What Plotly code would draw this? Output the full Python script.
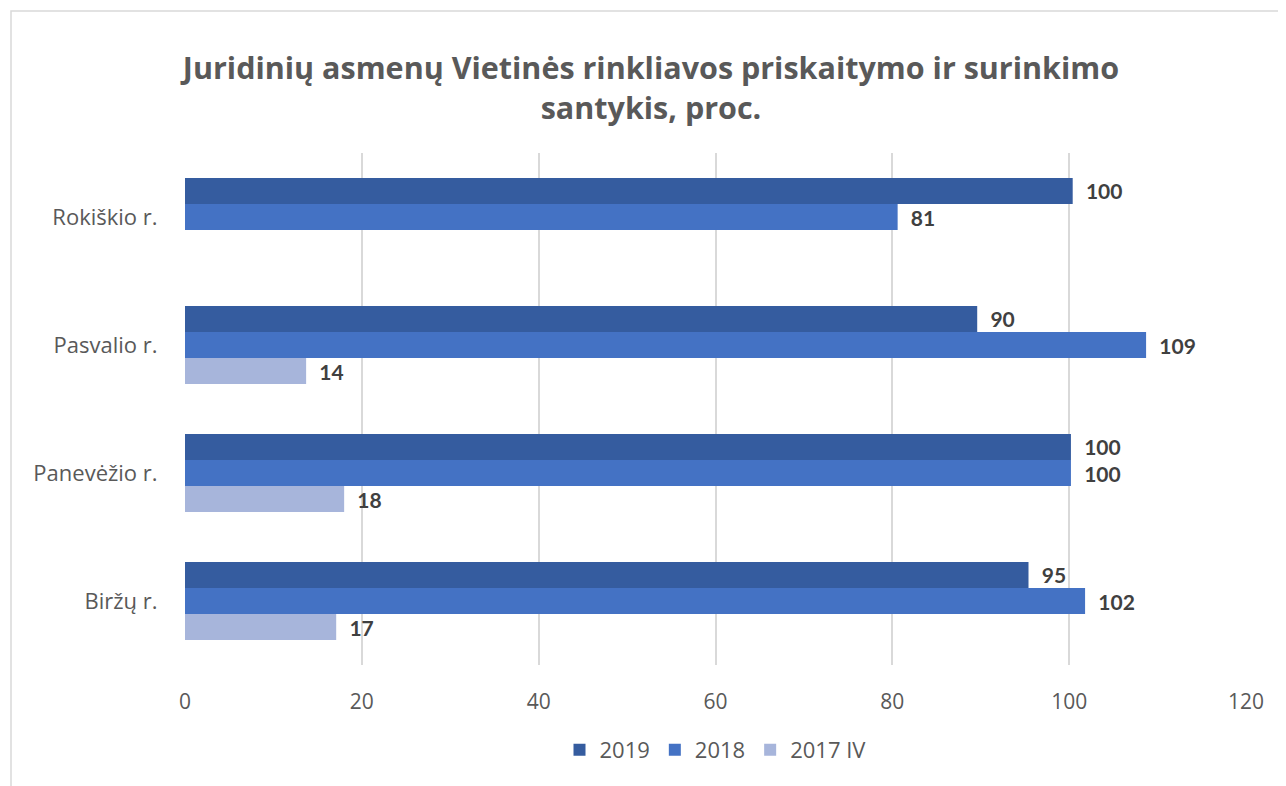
import plotly.graph_objects as go

categories = ["Biržų r.", "Panevėžio r.", "Pasvalio r.", "Rokiškio r."]
series_names = ["2019", "2018", "2017 IV"]
values_2019 = [95.4, 100.2, 89.6, 100.4]
values_2018 = [101.8, 100.2, 108.7, 80.6]
values_2017 = [17.1, 18.0, 13.7, None]
x_ticks = [0, 20, 40, 60, 80, 100, 120]

colors = {"2019": "#355C9F", "2018": "#4472C4", "2017 IV": "#A7B5DB"}
series = {"2019": values_2019, "2018": values_2018, "2017 IV": values_2017}

W, H = 1278, 778  # page body has an 8px margin
L, R, T, B = 177, 40, 145, 121

fig = go.Figure()
for name in ["2017 IV", "2018", "2019"]:
    fig.add_trace(go.Bar(
        y=categories, x=series[name], name=name, orientation="h",
        marker=dict(color=colors[name], line=dict(width=0)),
        texttemplate="\u00a0\u00a0%{x:.0f}", textposition="outside",
        constraintext="none",
        textfont=dict(family="Lato", size=21, color="#404040", weight="bold"),
        cliponaxis=False,
    ))

pw = W - L - R
ph = H - T - B

fig.update_layout(
    width=W, height=H,
    paper_bgcolor="white", plot_bgcolor="white",
    margin=dict(l=L, r=R, t=T, b=B, autoexpand=False),
    barmode="group", bargap=0.39, bargroupgap=0,
    font=dict(family="Open Sans", color="#595959"),
    title=dict(
        text="<b>Juridinių asmenų Vietinės rinkliavos priskaitymo ir surinkimo<br>santykis, proc.</b>",
        x=(651 - 8) / W, xanchor="center", xref="container",
        y=1 - (79 - 8) / H, yanchor="middle", yref="container",
        font=dict(family="Open Sans", size=30.5, color="#595959"),
    ),
    legend=dict(
        orientation="h", x=0.5, xanchor="center",
        y=-(750 - 665) / ph, yanchor="middle",
        traceorder="reversed", font=dict(size=22, color="#595959"),
    ),
    xaxis=dict(
        range=[0, 120], tickvals=x_ticks, showgrid=True, gridcolor="#D9D9D9",
        gridwidth=1.5, zeroline=False, showline=False,
        tickfont=dict(size=21, color="#595959"),
        ticks="outside", ticklen=18, tickcolor="rgba(0,0,0,0)",
    ),
    yaxis=dict(
        showgrid=False, zeroline=False, showline=False,
        tickfont=dict(size=22, color="#595959"),
        ticks="outside", ticklen=22, tickcolor="rgba(0,0,0,0)",
    ),
    shapes=[dict(
        type="rect", xref="paper", yref="paper",
        x0=(11 - 185) / pw, x1=(1300 - 185) / pw,
        y0=-(800 - 665) / ph, y1=(665 - 11) / ph,
        line=dict(color="#D9D9D9", width=1.5), fillcolor="rgba(0,0,0,0)",
        layer="below",
    )],
)

fig.write_html("out.html")
